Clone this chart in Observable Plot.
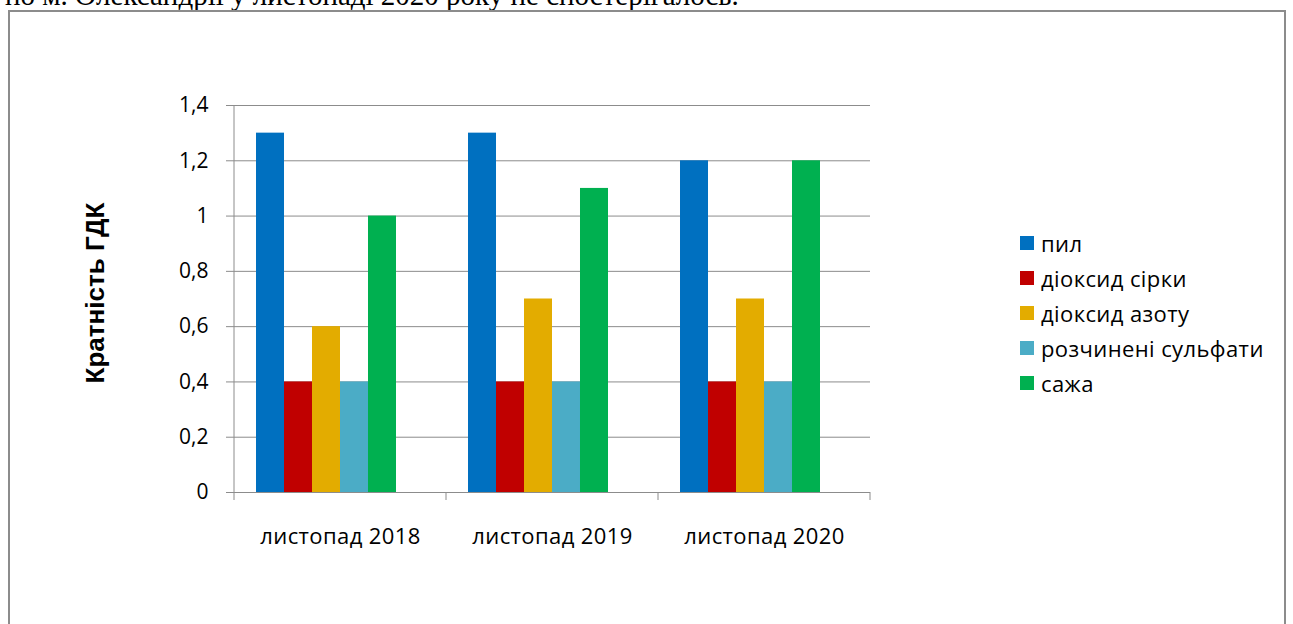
<!DOCTYPE html>
<html><head><meta charset="utf-8">
<script src="https://cdn.jsdelivr.net/npm/d3@7"></script>
<script src="https://cdn.jsdelivr.net/npm/@observablehq/plot@0.6"></script>
<style>
body{margin:0;width:1293px;height:624px;overflow:hidden;background:#fff;position:relative;font-family:"Open Sans",sans-serif}
#top{position:absolute;left:5px;top:-19px;font:29px/29px "Liberation Serif",serif;white-space:nowrap;color:#000}
#frame{position:absolute;left:8px;top:10px;width:1274px;height:700px;border:2px solid #8c8c8c}
#chart{position:absolute;left:0;top:0}
#ylab{position:absolute;left:95px;top:293px;transform:translate(-50%,-50%) rotate(-90deg);font:bold 26px "Liberation Sans Narrow","Liberation Sans",sans-serif;white-space:nowrap;color:#000}
#legend{position:absolute;left:1020px;top:225px}
.item{display:flex;align-items:center;height:35px;font-size:22px;letter-spacing:0.4px;color:#000;white-space:nowrap}
.sw{width:14px;height:14px;margin-right:7px;flex:none}
</style>
</head><body>
<div id="top">по м. Олександрії у листопаді 2020 року не спостерігалось.</div>
<div id="frame"></div>
<div id="chart"></div>
<div id="ylab">Кратність ГДК</div>
<div id="legend"></div>
<script>
const months = ["листопад 2018", "листопад 2019", "листопад 2020"];
const series = ["пил", "діоксид сірки", "діоксид азоту", "розчинені сульфати", "сажа"];
const colors = ["#0070C0", "#C00000", "#E3AC00", "#4BACC6", "#00B050"];
const pil = [1.3, 1.3, 1.2];
const dioksydSirky = [0.4, 0.4, 0.4];
const dioksydAzotu = [0.6, 0.7, 0.7];
const sulfaty = [0.4, 0.4, 0.4];
const sazha = [1.0, 1.1, 1.2];
const yTicks = [0, 0.2, 0.4, 0.6, 0.8, 1.0, 1.2, 1.4];
const yLabel = "Кратність ГДК";

const valueArrays = [pil, dioksydSirky, dioksydAzotu, sulfaty, sazha];
const rows = [];
months.forEach((m, i) => series.forEach((s, j) => rows.push({month: m, series: s, value: valueArrays[j][i]})));

const gridColor = "#8c8c8c";
const fmt = d => String(d).replace(".", ",");

const plot = Plot.plot({
  width: 1293,
  height: 624,
  marginTop: 105,
  marginBottom: 132,
  marginLeft: 234,
  marginRight: 423,
  style: {fontFamily: "'Open Sans', sans-serif", fontSize: "21px", background: "transparent", color: "#000", overflow: "visible"},
  fx: {domain: months, paddingInner: 0, paddingOuter: 0, round: false},
  x: {domain: [...series, ""], paddingInner: 0, paddingOuter: 0.786, round: false, axis: null},
  y: {domain: [0, 1.4], axis: null},
  color: {domain: series, range: colors},
  marks: [
    Plot.gridY(yTicks, {stroke: gridColor, strokeOpacity: 1}),
    Plot.barY(rows, {fx: "month", x: "series", y: "value", fill: "series", inset: 0}),
    Plot.ruleY([0], {stroke: gridColor}),
    Plot.axisY(yTicks, {anchor: "left", tickSize: 8, tickPadding: 18, tickFormat: fmt, stroke: gridColor, fill: "#000", fontSize: 21, label: null}),
    Plot.axisFx({anchor: "bottom", tickSize: 0, tickPadding: 36, label: null, fill: "#000", fontSize: 22})
  ]
});
document.getElementById("chart").appendChild(plot);
d3.select(plot).selectAll('g[aria-label="fx-axis tick label"] text').style("letter-spacing", "0.4px");

// axis line and category boundary ticks using the library's scales
const fxS = plot.scale("fx"), yS = plot.scale("y");
const bounds = months.map(m => fxS.apply(m)).concat([fxS.apply(months[months.length - 1]) + fxS.bandwidth]);
const svg = d3.select(plot);
const y0 = yS.apply(0), yTop = yS.apply(1.4);
const g = svg.append("g").attr("stroke", gridColor);
g.append("line").attr("x1", bounds[0]).attr("x2", bounds[0]).attr("y1", yTop).attr("y2", y0);
bounds.forEach(b => g.append("line").attr("x1", b).attr("x2", b).attr("y1", y0).attr("y2", y0 + 8));

// legend
const leg = document.getElementById("legend");
series.forEach((s, i) => {
  const it = document.createElement("div"); it.className = "item";
  const sw = document.createElement("span"); sw.className = "sw"; sw.style.background = colors[i];
  it.appendChild(sw); it.appendChild(document.createTextNode(s));
  leg.appendChild(it);
});
document.getElementById("ylab").textContent = yLabel;
</script>
</body></html>
